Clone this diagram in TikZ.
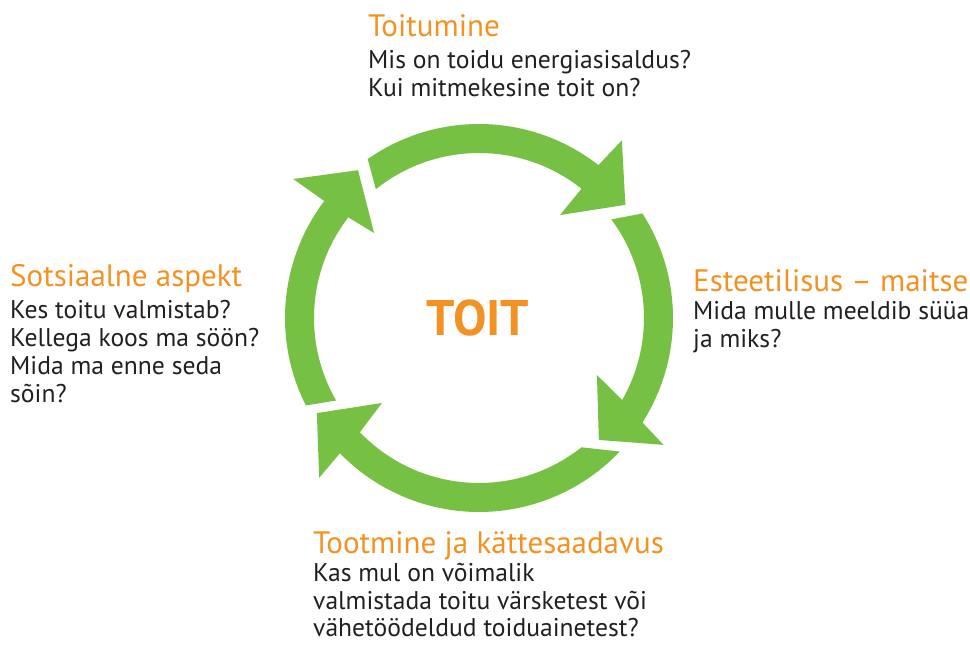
\documentclass[tikz,border=0pt]{standalone}
\usepackage{fontspec}
\setmainfont{PT Sans}
\definecolor{cgreen}{RGB}{118,192,68}
\definecolor{corange}{RGB}{243,146,34}
\definecolor{ctext}{RGB}{35,31,32}
\begin{document}
\begin{tikzpicture}[x=1pt,y=1pt,
  ttl/.style={anchor=base west,inner sep=0pt,text=corange,font=\fontsize{31}{36}\selectfont},
  bdy/.style={anchor=base west,inner sep=0pt,text=ctext,align=left,font=\fontsize{25.6}{28.2}\selectfont},
  arr/.style={fill=cgreen,draw=none}]
\useasboundingbox (0,0) rectangle (970,645);
\coordinate (c) at (479,327);
% arrows
\fill[arr,shift={(c)}] (125:194) arc[start angle=125,end angle=52,radius=194]
  -- (51.2:228) -- (37.7:185) -- (51.8:131) -- (51.6:165)
  arc[start angle=51.6,end angle=128.7,radius=165] -- cycle;
\fill[arr,shift={(c)}] (32.6:194) arc[start angle=32.6,end angle=-32.6,radius=194]
  -- (-34.5:224) -- (-45.5:171) -- (-25.8:131) -- (-29.8:165)
  arc[start angle=-29.8,end angle=36.7,radius=165] -- cycle;
\fill[arr,shift={(c)}] (-43.5:194) arc[start angle=-43.5,end angle=-135.8,radius=194]
  -- (-135:226) -- (-149.6:188) -- (-138.8:129) -- (-136.2:165)
  arc[start angle=-136.2,end angle=-51.6,radius=165] -- cycle;
\fill[arr,shift={(c)}] (-153.2:194) arc[start angle=-153.2,end angle=-217.1,radius=194]
  -- (143.2:232) -- (129.3:191) -- (141:135) -- (142.4:165)
  arc[start angle=-217.6,end angle=-150,radius=165] -- cycle;
% centre
\node[text=corange,font=\fontsize{50}{54}\selectfont\bfseries] (toit) at (478,327) {TOIT};
% texts (body anchors are at the last line's baseline)
\node[ttl] (t1) at (368,608) {Toitumine};
\node[bdy] (b1) at (368,548) {Mis on toidu energiasisaldus?\\Kui mitmekesine toit on?};
\node[ttl] (t2) at (693,353) {Esteetilisus – maitse};
\node[bdy] (b2) at (693,297) {Mida mulle meeldib süüa\\ja miks?};
\node[ttl] (t3) at (10,358) {Sotsiaalne aspekt};
\node[bdy] (b3) at (10,242) {Kes toitu valmistab?\\Kellega koos ma söön?\\Mida ma enne seda\\sõin?};
\node[ttl] (t4) at (313,91) {Tootmine ja kättesaadavus};
\node[bdy,font=\fontsize{25.6}{27.5}\selectfont] (b4) at (313,8) {Kas mul on võimalik\\valmistada toitu värsketest või\\vähetöödeldud toiduainetest?};
\end{tikzpicture}
\end{document}
